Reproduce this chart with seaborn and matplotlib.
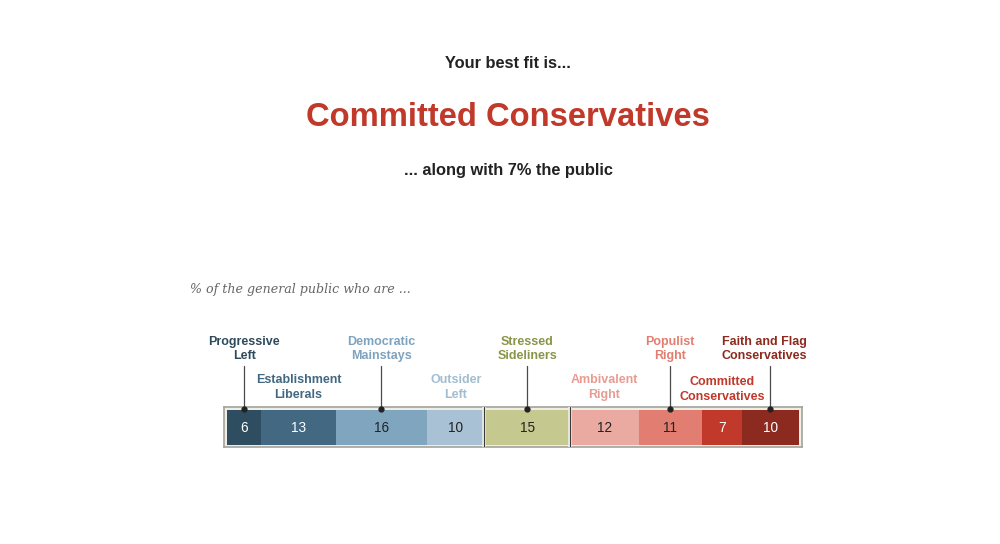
import pandas as pd
import matplotlib
matplotlib.use('Agg')
import matplotlib.pyplot as plt
import matplotlib.transforms as mtransforms
import seaborn as sns

# typology groups, left to right
groups = ['Progressive Left', 'Establishment Liberals', 'Democratic Mainstays', 'Outsider Left',
          'Stressed Sideliners', 'Ambivalent Right', 'Populist Right', 'Committed Conservatives',
          'Faith and Flag Conservatives']
group_labels = ['Progressive\nLeft', 'Establishment\nLiberals', 'Democratic\nMainstays', 'Outsider\nLeft',
                'Stressed\nSideliners', 'Ambivalent\nRight', 'Populist\nRight', 'Committed\nConservatives',
                'Faith and Flag\nConservatives']
shares = [6, 13, 16, 10, 15, 12, 11, 7, 10]  # % of general public
block_breaks = [45, 60]  # left block | sideliners | right block

bar_colors = ['#2f4d61', '#436882', '#80a5bf', '#a9c1d4', '#c5c98f',
              '#eaaaa1', '#e27e71', '#c0392b', '#8d2a1f']
label_colors = ['#2f4a5c', '#436882', '#7ea3be', '#a3bdd0', '#8b9548',
                '#e89c91', '#e27e71', '#c0392b', '#8d2a1f']
value_colors = ['white', 'white', '#222222', '#222222', '#222222',
                '#222222', '#222222', 'white', 'white']

sns.set_theme(style='white')
plt.rcParams['font.family'] = ['Liberation Sans', 'DejaVu Sans']

fig = plt.figure(figsize=(10, 5.44), dpi=100)
H = 544.0

fig.text(0.508, 1 - 63 / H, 'Your best fit is...', ha='center', va='center',
         fontsize=11.8, fontweight='bold', color='#222222')
fig.text(0.5075, 1 - 118 / H, 'Committed Conservatives', ha='center', va='center',
         fontsize=23.6, fontweight='bold', color='#c0392b')
fig.text(0.508, 1 - 171 / H, '... along with 7% the public', ha='center', va='center',
         fontsize=11.8, fontweight='bold', color='#222222')
fig.text(0.19, 1 - 290 / H, '% of the general public who are ...', ha='left', va='center',
         family='DejaVu Serif', style='italic', fontsize=9.1, color='#666666')

# the stacked bar
ax = fig.add_axes([0.224, 1 - 447 / H, 0.578, 40 / H])
df = pd.DataFrame({'group': groups, 'share': shares})
df['cum'] = df['share'].cumsum()
df['start'] = df['cum'] - df['share']
df['row'] = 'all'

sns.barplot(data=df, x='cum', y='row', hue='group', hue_order=groups[::-1],
            palette=dict(zip(groups, bar_colors)), dodge=False, width=1, orient='h',
            errorbar=None, saturation=1, linewidth=0, legend=False, ax=ax)

px = 5.72  # pixels per percentage point
ax.set_xlim(-3 / px, 100 + 3 / px)
ax.set_ylim(-0.5 - 2 / 35, 0.5 + 3 / 35)
ax.set_facecolor('#eeeee7')
for s in ax.spines.values():
    s.set_visible(True)
    s.set_color('#a3a39c')
    s.set_linewidth(1.2)
ax.set_xticks([])
ax.set_yticks([])
ax.set_xlabel('')
ax.set_ylabel('')

for b in block_breaks:
    ax.axvline(b, color='#eeeee7', lw=2.6, zorder=5)
    ax.axvline(b, color='#3a3a3a', lw=0.8, zorder=6)

trans = mtransforms.blended_transform_factory(ax.transData, fig.transFigure)
upper = [True, False, True, False, True, False, True, False, True]
shift = {'Faith and Flag Conservatives': -1.1}

for i, row in df.iterrows():
    c = row['start'] + row['share'] / 2
    ax.text(c, 0, str(row['share']), ha='center', va='center', fontsize=9.8,
            color=value_colors[i], zorder=7)
    tx = c + shift.get(row['group'], 0)
    if upper[i]:
        ax.text(tx, 1 - 349 / H, group_labels[i], transform=trans, ha='center', va='center',
                fontsize=9, fontweight='bold', color=label_colors[i], linespacing=1.3)
        ax.plot([c, c], [1 - 366 / H, 1 - 409 / H], transform=trans, color='#4a4a4a',
                lw=0.9, clip_on=False, zorder=8)
        ax.plot([c], [1 - 409 / H], transform=trans, marker='o', ms=3.5, color='#222222',
                clip_on=False, zorder=9)
    else:
        y = 389.5 if row['group'] == 'Committed Conservatives' else 387.5
        ax.text(tx, 1 - y / H, group_labels[i], transform=trans, ha='center', va='center',
                fontsize=9, fontweight='bold', color=label_colors[i], linespacing=1.3)

fig.savefig('out.png', dpi=100)
